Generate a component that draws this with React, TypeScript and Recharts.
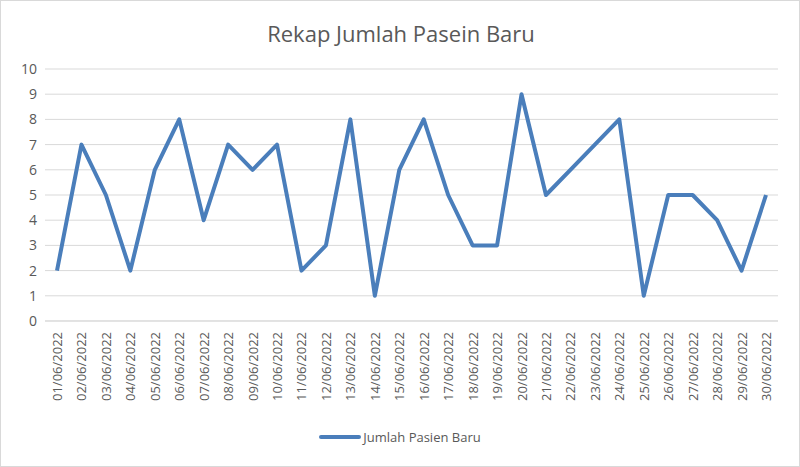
import React from 'react';
import { LineChart, Line, XAxis, YAxis, CartesianGrid, Legend } from 'recharts';

const dates = [
  '01/06/2022','02/06/2022','03/06/2022','04/06/2022','05/06/2022','06/06/2022','07/06/2022','08/06/2022','09/06/2022','10/06/2022',
  '11/06/2022','12/06/2022','13/06/2022','14/06/2022','15/06/2022','16/06/2022','17/06/2022','18/06/2022','19/06/2022','20/06/2022',
  '21/06/2022','22/06/2022','23/06/2022','24/06/2022','25/06/2022','26/06/2022','27/06/2022','28/06/2022','29/06/2022','30/06/2022',
];
const pasienBaru = [2,7,5,2,6,8,4,7,6,7,2,3,8,1,6,8,5,3,3,9,5,6,7,8,1,5,5,4,2,5];
const yTicks = [0,1,2,3,4,5,6,7,8,9,10];

const data = dates.map((d, i) => ({ date: d, value: pasienBaru[i] }));

const FONT = '"Open Sans", "Liberation Sans", sans-serif';
const TEXT = '#595959';
const BLUE = '#4a7ebb';

const XTick = (props: any) => {
  const { x, y, payload } = props;
  return (
    <g transform={`translate(${x},${y + 3})`}>
      <text transform="rotate(-90)" textAnchor="end" dominantBaseline="central" fill={TEXT} fontSize={13} fontFamily={FONT}>
        {payload.value}
      </text>
    </g>
  );
};

const LegendContent = () => (
  <div style={{ display: 'flex', alignItems: 'center', justifyContent: 'center', fontFamily: FONT, fontSize: 13, color: TEXT }}>
    <svg width={42} height={8} style={{ marginRight: 2 }}>
      <line x1={2} y1={4} x2={40} y2={4} stroke={BLUE} strokeWidth={4} strokeLinecap="round" />
    </svg>
    <span>Jumlah Pasien Baru</span>
  </div>
);

export default function App() {
  return (
    <div style={{ position: 'absolute', left: 0, top: 0, width: 800, height: 467, background: '#fff', boxSizing: 'border-box', border: '1px solid #d9d9d9' }}>
      <div style={{ position: 'absolute', left: 0, top: 17, width: 800, textAlign: 'center', fontFamily: FONT, fontSize: 22, lineHeight: '30px', color: TEXT }}>
        Rekap Jumlah Pasein Baru
      </div>
      <div style={{ position: 'absolute', left: -1, top: -1 }}>
        <LineChart width={800} height={467} data={data} margin={{ top: 69, right: 22, left: 10, bottom: 38 }}>
          <CartesianGrid vertical={false} stroke="#d9d9d9" strokeWidth={1} />
          <XAxis dataKey="date" interval={0} tick={<XTick />} tickLine={false} axisLine={{ stroke: '#d9d9d9' }} height={90} padding={{ left: 12, right: 12 }} />
          <YAxis domain={[0, 10]} ticks={yTicks} width={35} tickLine={false} axisLine={false}
            tick={{ fill: TEXT, fontSize: 14, fontFamily: FONT }} />
          <Legend verticalAlign="bottom" content={<LegendContent />} wrapperStyle={{ top: 428, left: 0, width: 800 }} />
          <Line dataKey="value" stroke={BLUE} strokeWidth={4} dot={false} isAnimationActive={false} strokeLinejoin="round" />
        </LineChart>
      </div>
    </div>
  );
}
